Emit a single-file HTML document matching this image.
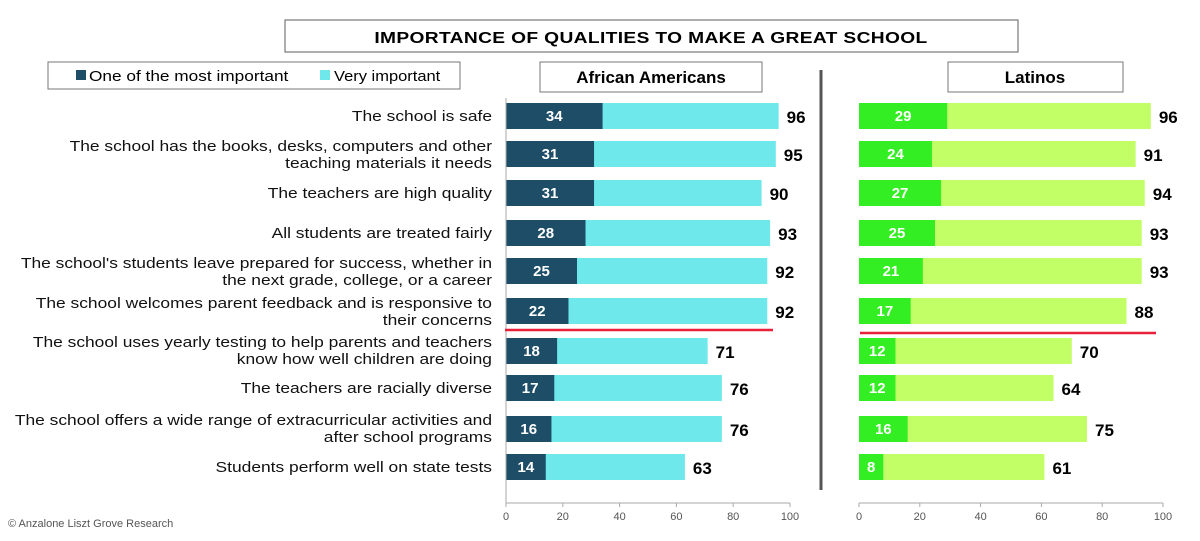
<!DOCTYPE html>
<html><head><meta charset="utf-8"><style>
body{margin:0;background:#fff;}
svg text{font-family:"Liberation Sans",Arial,sans-serif;}
</style></head><body>
<svg width="1200" height="536" xmlns="http://www.w3.org/2000/svg">
<rect x="285" y="20" width="733" height="32" fill="#fff" stroke="#777" stroke-width="1.2"/>
<text x="651" y="43" text-anchor="middle" font-size="16" font-weight="bold" transform="translate(651,0) scale(1.2,1) translate(-651,0)" letter-spacing="0.3">IMPORTANCE  OF QUALITIES  TO MAKE A GREAT SCHOOL</text>
<rect x="48" y="62" width="412" height="27" fill="#fff" stroke="#777"/>
<rect x="76" y="70" width="10" height="10" fill="#1e4d68"/>
<text x="89" y="81" font-size="15" transform="translate(89,0) scale(1.15,1) translate(-89,0)">One of the most important</text>
<rect x="320" y="70" width="10" height="10" fill="#6ee8ea"/>
<text x="334" y="81" font-size="15" transform="translate(334,0) scale(1.1,1) translate(-334,0)">Very important</text>
<rect x="540" y="62" width="222" height="30" fill="#fff" stroke="#777"/>
<text x="651" y="83" text-anchor="middle" font-size="17" font-weight="bold">African Americans</text>
<rect x="948" y="62" width="175" height="30" fill="#fff" stroke="#777"/>
<text x="1035" y="83" text-anchor="middle" font-size="17" font-weight="bold">Latinos</text>
<line x1="821" y1="70" x2="821" y2="490" stroke="#555" stroke-width="3"/>
<g font-size="15" text-anchor="end" fill="#111" transform="translate(492,0) scale(1.16,1) translate(-492,0)">
<text x="492" y="121">The school is safe</text>
<text x="492" y="151">The school has the books, desks, computers and other</text>
<text x="492" y="168">teaching materials it needs</text>
<text x="492" y="198">The teachers are high quality</text>
<text x="492" y="238">All students are treated fairly</text>
<text x="492" y="268">The school's students leave prepared for success, whether in</text>
<text x="492" y="285">the next grade, college, or a career</text>
<text x="492" y="308">The school welcomes parent feedback and is responsive to</text>
<text x="492" y="325">their concerns</text>
<text x="492" y="347">The school uses yearly testing to help parents and teachers</text>
<text x="492" y="364">know how well children are doing</text>
<text x="492" y="393">The teachers are racially diverse</text>
<text x="492" y="425">The school offers a wide range of extracurricular activities and</text>
<text x="492" y="442">after school programs</text>
<text x="492" y="472">Students perform well on state tests</text>
</g>
<g id="bars"></g>
<line x1="505" y1="330" x2="773" y2="330" stroke="#e8203a" stroke-width="2.5"/>
<line x1="860" y1="333" x2="1156" y2="333" stroke="#e8203a" stroke-width="2.5"/>
<text x="8" y="527" font-size="11" fill="#555" font-family="Liberation Serif">© Anzalone Liszt Grove Research</text>
</svg>
<script>
const ys=[116,154,193,233,271,311,351,388,429,467];
const aa=[[34,96],[31,95],[31,90],[28,93],[25,92],[22,92],[18,71],[17,76],[16,76],[14,63]];
const la=[[29,96],[24,91],[27,94],[25,93],[21,93],[17,88],[12,70],[12,64],[16,75],[8,61]];
const g=document.getElementById('bars');let s='';
function panel(d,x0,x1,c1,c2){const k=(x1-x0)/100;
 ys.forEach((y,i)=>{const [a,b]=d[i];
 s+=`<rect x="${x0}" y="${y-13}" width="${b*k}" height="26" fill="${c2}"/>`;
 s+=`<rect x="${x0}" y="${y-13}" width="${a*k}" height="26" fill="${c1}"/>`;
 s+=`<text x="${x0+a*k/2}" y="${y+5}" text-anchor="middle" font-size="15" font-weight="bold" fill="#fff">${a}</text>`;
 s+=`<text x="${x0+b*k+8}" y="${y+7}" font-size="17" font-weight="bold">${b}</text>`;});
 s+=`<line x1="${x0}" y1="503" x2="${x1}" y2="503" stroke="#aaa"/>`;
 if(x0<800)s+=`<line x1="${x0}" y1="98" x2="${x0}" y2="503" stroke="#aaa"/>`;
 for(let t=0;t<=100;t+=20){const x=x0+t*k;s+=`<line x1="${x}" y1="503" x2="${x}" y2="507" stroke="#aaa"/><text x="${x}" y="520" text-anchor="middle" font-size="11" fill="#555">${t}</text>`;}
}
panel(aa,506,790,'#1e4d68','#6ee8ea');
panel(la,859,1163,'#33ee22','#c2ff66');
g.innerHTML=s;
</script>
</body></html>
